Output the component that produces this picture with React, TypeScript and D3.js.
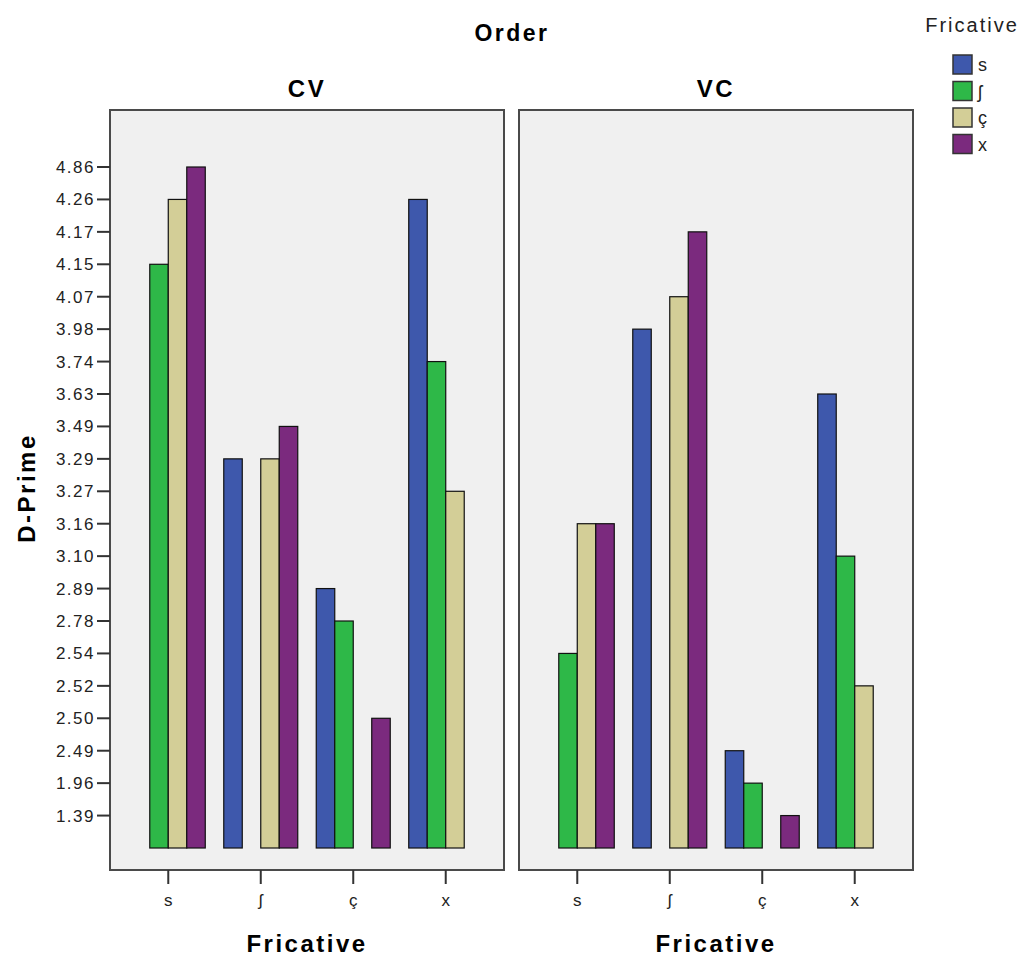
import React, { useEffect, useRef } from "react";
import * as d3 from "d3";

const fricatives = ["s", "ʃ", "ç", "x"];
const orders = ["CV", "VC"];
const colors = ["#3e58ac", "#2eb848", "#d3ce97", "#7b2a7e"];

// D-Prime, one array per bar colour (fricative), one entry per x category
const cvS = [null, 3.29, 2.89, 4.26];
const cvSh = [4.15, null, 2.78, 3.74];
const cvC = [4.26, 3.29, null, 3.27];
const cvX = [4.86, 3.49, 2.5, null];

const vcS = [null, 3.98, 2.49, 3.63];
const vcSh = [2.54, null, 1.96, 3.1];
const vcC = [3.16, 4.07, null, 2.52];
const vcX = [3.16, 4.17, 1.39, null];

// SPSS treated D-Prime as categorical: every distinct value is one tick
const yTicks = [
  1.39, 1.96, 2.49, 2.5, 2.52, 2.54, 2.78, 2.89, 3.1, 3.16, 3.27, 3.29, 3.49, 3.63,
  3.74, 3.98, 4.07, 4.15, 4.17, 4.26, 4.86,
];

const App = () => {
  const ref = useRef<SVGSVGElement>(null);

  useEffect(() => {
    const svg = d3.select(ref.current);
    svg.selectAll("*").remove();

    const width = 1024;
    const height = 956;
    const top = 110;
    const bottom = 870;
    const panelX = [
      [110, 504],
      [519, 913],
    ];
    const panelSeries = [
      [cvS, cvSh, cvC, cvX],
      [vcS, vcSh, vcC, vcX],
    ];

    svg.attr("width", width).attr("height", height);
    svg.append("rect").attr("width", width).attr("height", height).attr("fill", "#fff");

    const y = d3
      .scalePoint<string | number>()
      .domain(["base", ...yTicks])
      .range([848, 167]);

    const font = "'Liberation Sans', Arial, sans-serif";

    orders.forEach((order, p) => {
      const [x0, x1] = panelX[p];
      const g = svg.append("g");

      g.append("rect")
        .attr("x", x0)
        .attr("y", top)
        .attr("width", x1 - x0)
        .attr("height", bottom - top)
        .attr("fill", "#f0f0f0")
        .attr("stroke", "#4a4a4a")
        .attr("stroke-width", 2);

      const x = d3.scaleBand().domain(fricatives).range([x0, x1]).paddingInner(0.2).paddingOuter(0.23);
      const xs = d3.scaleBand<number>().domain([0, 1, 2, 3]).range([0, x.bandwidth()]);

      const bars: { cat: string; s: number; v: number }[] = [];
      panelSeries[p].forEach((vals, s) => {
        vals.forEach((v, i) => {
          if (v != null) bars.push({ cat: fricatives[i], s, v });
        });
      });

      g.append("g")
        .selectAll("rect")
        .data(bars)
        .join("rect")
        .attr("x", (d) => x(d.cat)! + xs(d.s)!)
        .attr("y", (d) => y(d.v)!)
        .attr("width", xs.bandwidth())
        .attr("height", (d) => y("base")! - y(d.v)!)
        .attr("fill", (d) => colors[d.s])
        .attr("stroke", "#111")
        .attr("stroke-width", 1.2);

      // x axis
      const xa = g.append("g").attr("transform", `translate(0,${bottom})`);
      xa.selectAll("line")
        .data(fricatives)
        .join("line")
        .attr("x1", (d) => x(d)! + x.bandwidth() / 2)
        .attr("x2", (d) => x(d)! + x.bandwidth() / 2)
        .attr("y1", 0)
        .attr("y2", 14)
        .attr("stroke", "#333")
        .attr("stroke-width", 2);
      xa.selectAll("text")
        .data(fricatives)
        .join("text")
        .attr("x", (d) => x(d)! + x.bandwidth() / 2)
        .attr("y", 36)
        .attr("text-anchor", "middle")
        .style("font-family", font)
        .style("font-size", "17px")
        .attr("fill", "#222")
        .text((d) => d);

      g.append("text")
        .attr("x", (x0 + x1) / 2)
        .attr("y", 952)
        .attr("text-anchor", "middle")
        .style("font-family", font)
        .style("font-size", "24px")
        .style("font-weight", "bold")
        .style("letter-spacing", "2.5px")
        .text("Fricative");

      g.append("text")
        .attr("x", (x0 + x1) / 2)
        .attr("y", 97)
        .attr("text-anchor", "middle")
        .style("font-family", font)
        .style("font-size", "24px")
        .style("font-weight", "bold")
        .style("letter-spacing", "2.5px")
        .text(order);
    });

    // y axis (left panel only)
    const ya = svg.append("g");
    ya.selectAll("line")
      .data(yTicks)
      .join("line")
      .attr("x1", 97)
      .attr("x2", 110)
      .attr("y1", (d) => y(d)!)
      .attr("y2", (d) => y(d)!)
      .attr("stroke", "#333")
      .attr("stroke-width", 2);
    ya.selectAll("text")
      .data(yTicks)
      .join("text")
      .attr("x", 95)
      .attr("y", (d) => y(d)! + 6)
      .attr("text-anchor", "end")
      .style("font-family", font)
      .style("font-size", "17px")
      .style("letter-spacing", "1.5px")
      .attr("fill", "#222")
      .text((d) => d.toFixed(2));

    svg
      .append("text")
      .attr("transform", `translate(35,488) rotate(-90)`)
      .attr("text-anchor", "middle")
      .style("font-family", font)
      .style("font-size", "24px")
      .style("font-weight", "bold")
      .style("letter-spacing", "2.5px")
      .text("D-Prime");

    svg
      .append("text")
      .attr("x", 512)
      .attr("y", 41)
      .attr("text-anchor", "middle")
      .style("font-family", font)
      .style("font-size", "23px")
      .style("font-weight", "bold")
      .style("letter-spacing", "2.5px")
      .text("Order");

    // legend
    const legend = svg.append("g");
    legend
      .append("text")
      .attr("x", 972)
      .attr("y", 32)
      .attr("text-anchor", "middle")
      .style("font-family", font)
      .style("font-size", "20px")
      .style("letter-spacing", "2px")
      .attr("fill", "#222")
      .text("Fricative");
    const items = legend
      .selectAll("g")
      .data(fricatives)
      .join("g")
      .attr("transform", (d, i) => `translate(953,${55 + i * 26.5})`);
    items
      .append("rect")
      .attr("width", 19)
      .attr("height", 19)
      .attr("fill", (d, i) => colors[i])
      .attr("stroke", "#333")
      .attr("stroke-width", 1.5);
    items
      .append("text")
      .attr("x", 25)
      .attr("y", 16)
      .style("font-family", font)
      .style("font-size", "18px")
      .attr("fill", "#222")
      .text((d) => d);
  }, []);

  return <svg ref={ref} style={{ position: "absolute", left: 0, top: 0 }} />;
};

export default App;
